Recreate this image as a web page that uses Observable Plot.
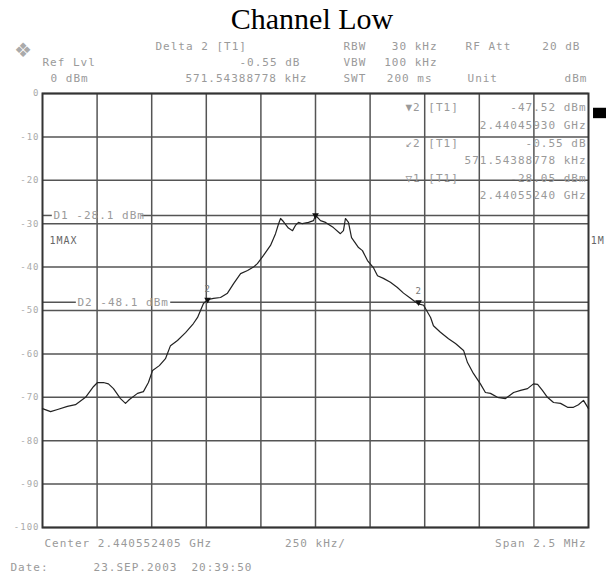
<!DOCTYPE html>
<html>
<head>
<meta charset="utf-8">
<script src="https://cdn.jsdelivr.net/npm/d3@7"></script>
<script src="https://cdn.jsdelivr.net/npm/@observablehq/plot@0.6"></script>
<style>
  body { margin: 0; background: #fff; }
  #title { width: 606px; height: 30px; text-align: center; font-family: "Liberation Serif", serif; font-size: 30px; line-height: 30px; padding-left: 18px; box-sizing: border-box; overflow: visible; }
  #title span { position: relative; top: 4px; }
</style>
</head>
<body>
<div id="title"><span>Channel Low</span></div>
<div id="chart"></div>
<script>
// Frequency offset from center (kHz) and trace level (dBm)
const freqKHz = [-1250,-1213,-1181,-1136,-1099,-1053,-1016,-998,-971,-948,
  -925,-893,-870,-852,-815,-788,-765,-746,-715,-687,
  -664,-632,-595,-559,-540,-513,-494,-467,-435,-403,
  -375,-343,-311,-284,-266,-238,-206,-183,-169,-160,
  -147,-124,-105,-92,-78,-60,-32,-9,0,23,
  46,82,114,128,137,151,165,197,215,238,
  266,284,311,343,375,403,435,467,495,527,
  540,572,609,641,678,696,723,755,778,801,
  833,870,907,939,971,998,1017,1039,1062,1090,
  1122,1154,1181,1204,1227,1250];
const levelDbm = [-72.6,-73.3,-72.8,-72.1,-71.7,-70.0,-67.5,-66.6,-66.6,-66.9,
  -68.0,-70.3,-71.4,-70.5,-69.1,-68.7,-66.6,-63.8,-62.7,-61.1,
  -58.1,-56.9,-55.1,-53.0,-51.6,-48.4,-47.5,-47.2,-47.0,-46.0,
  -43.8,-41.5,-40.8,-40.0,-39.2,-37.3,-35.0,-32.3,-30.0,-28.8,
  -29.5,-31.0,-31.6,-30.4,-29.7,-30.0,-29.7,-29.3,-28.05,-29.3,
  -29.7,-30.9,-32.3,-31.6,-28.8,-29.7,-33.2,-35.5,-36.2,-38.5,
  -40.2,-42.0,-42.6,-43.5,-44.7,-46.0,-47.2,-48.4,-48.8,-51.6,
  -53.5,-55.0,-56.5,-57.6,-59.2,-62.0,-64.5,-66.9,-68.9,-69.1,
  -70.0,-70.3,-68.9,-68.4,-68.0,-66.9,-67.0,-68.4,-70.0,-71.2,
  -71.4,-72.3,-72.3,-71.7,-70.7,-72.6];

const gridKHz = [-1000,-750,-500,-250,0,250,500,750,1000];
const gridDb = [0,-10,-20,-30,-40,-50,-60,-70,-80,-90,-100];

// Display lines (drawn with a gap where the label sits)
const displayLineNames = ["D1 -28.1 dBm", "D2 -48.1 dBm"];
const displayLineDb = [-28.1, -48.1];
const displayLineLabelKHz = [-1200, -1090];
const displayLineGapStartKHz = [-1205, -1095];
const displayLineGapEndKHz = [-795, -663];

// Markers
const markerNames = ["1", "2", "2"];
const markerKHz = [0, -494, 472];
const markerDb = [-28.05, -47.52, -48.07];

// Header / info text, anchored in chart units (kHz, dB)
const headerTexts  = ["Delta 2 [T1]","RBW","30 kHz","RF Att","20 dB",
                      "Ref Lvl","-0.55 dB","VBW","100 kHz",
                      "0 dBm","571.54388778 kHz","SWT","200 ms","Unit","dBm"];
const headerKHz    = [-733,128,559,687,1213, -1250,-69,128,559, -1213,-37,128,536,696,1245];
const headerDb     = [10.8,10.8,10.8,10.8,10.8, 7.1,7.1,7.1,7.1, 3.4,3.4,3.4,3.4,3.4,3.4];
const headerAnchor = ["start","start","end","start","end", "start","end","start","end", "start","end","start","end","start","end"];

const markerInfoLeft = ["\u25BC2 [T1]", "\u21992 [T1]", "\u25BD1 [T1]"];
const markerInfoLeftDb = [-3.2, -11.5, -19.6];
const markerInfoRight = ["-47.52 dBm","2.44045930 GHz","-0.55 dB","571.54388778 kHz","-28.05 dBm","2.44055240 GHz"];
const markerInfoRightDb = [-3.2, -7.4, -11.5, -15.4, -19.6, -23.5];

const footerTexts  = ["Center 2.440552405 GHz", "250 kHz/", "Span 2.5 MHz", "Date:", "23.SEP.2003", "20:39:50"];
const footerKHz    = [-1241, 0, 1241, -1397, -1016, -568];
const footerDb     = [-103.7, -103.7, -103.7, -109.2, -109.2, -109.2];
const footerAnchor = ["start", "middle", "end", "start", "start", "start"];

const traceLabels = ["1MAX", "1M"];
const traceLabelKHz = [-1218, 1260];
const traceLabelDb = [-33.9, -33.9];

const trace = freqKHz.map((f, i) => ({f, db: levelDbm[i]}));
const dls = displayLineNames.map((n, i) => ({n, db: displayLineDb[i], f: displayLineLabelKHz[i]}));
const dlSegs = displayLineDb.flatMap((db, i) => [
  {db, x1: -1250, x2: displayLineGapStartKHz[i]},
  {db, x1: displayLineGapEndKHz[i], x2: 1250}
]);
const mks = markerNames.map((n, i) => ({n, f: markerKHz[i], db: markerDb[i]}));
const hdr = headerTexts.map((t, i) => ({t, f: headerKHz[i], db: headerDb[i], a: headerAnchor[i]}));
const ftr = footerTexts.map((t, i) => ({t, f: footerKHz[i], db: footerDb[i], a: footerAnchor[i]}));
const mil = markerInfoLeft.map((t, i) => ({t, db: markerInfoLeftDb[i]}));
const mir = markerInfoRight.map((t, i) => ({t, db: markerInfoRightDb[i]}));
const tl = traceLabels.map((t, i) => ({t, f: traceLabelKHz[i], db: traceLabelDb[i]}));

const txtFill = "#9a9a9a";
const fs = 11;

const chart = Plot.plot({
  width: 606,
  height: 545,
  marginLeft: 42,
  marginRight: 18,
  marginTop: 63,
  marginBottom: 48,
  x: {domain: [-1250, 1250], axis: null},
  y: {domain: [-100, 0], axis: null},
  style: {fontFamily: "'DejaVu Sans Mono', monospace", letterSpacing: "1px", background: "white", overflow: "visible"},
  marks: [
    Plot.ruleX(gridKHz, {stroke: "#555", strokeWidth: 1.5}),
    Plot.ruleY(gridDb, {stroke: "#555", strokeWidth: 1.5}),
    Plot.ruleY(dlSegs, {y: "db", x1: "x1", x2: "x2", stroke: "#555", strokeWidth: 1.5}),
    Plot.frame({stroke: "#333", strokeWidth: 2}),
    Plot.text(dls, {x: "f", y: "db", text: "n", textAnchor: "start", fontSize: fs, fill: txtFill}),
    Plot.line(trace, {x: "f", y: "db", stroke: "#222", strokeWidth: 1.2}),
    Plot.dot(mks, {x: "f", y: "db", symbol: "triangle", rotate: 180, r: 2.5, fill: "#111"}),
    Plot.text(mks.slice(1), {x: "f", y: "db", text: "n", dy: -11, fontSize: 9, fill: "#777"}),
    Plot.text(gridDb, {frameAnchor: "left", y: d => d, text: d => String(d), textAnchor: "end", dx: -3, fontSize: 9, fill: "#aaa", letterSpacing: "0px"}),
    Plot.text(hdr, {x: "f", y: "db", text: "t", textAnchor: "start", filter: d => d.a === "start", fontSize: fs, fill: txtFill}),
    Plot.text(hdr, {x: "f", y: "db", text: "t", textAnchor: "end", filter: d => d.a === "end", fontSize: fs, fill: txtFill}),
    Plot.text(mil, {x: 412, y: "db", text: "t", textAnchor: "start", fontSize: fs, fill: txtFill}),
    Plot.text(mir, {x: 1241, y: "db", text: "t", textAnchor: "end", fontSize: fs, fill: txtFill}),
    Plot.text(ftr, {x: "f", y: "db", text: "t", textAnchor: "start", filter: d => d.a === "start", fontSize: fs, fill: txtFill}),
    Plot.text(ftr, {x: "f", y: "db", text: "t", textAnchor: "middle", filter: d => d.a === "middle", fontSize: fs, fill: txtFill}),
    Plot.text(ftr, {x: "f", y: "db", text: "t", textAnchor: "end", filter: d => d.a === "end", fontSize: fs, fill: txtFill}),
    Plot.text(tl, {x: "f", y: "db", text: "t", textAnchor: "start", fontSize: 10, fill: "#666", letterSpacing: "0px"}),
    Plot.rect([{x1: 1273, x2: 1340, y1: -3.4, y2: -5.8}], {x1: "x1", x2: "x2", y1: "y1", y2: "y2", fill: "#000"}),
    Plot.text(["\u2756"], {x: -1337, y: 10.4, text: d => d, fontSize: 26, fill: "#aaa"})
  ]
});
document.getElementById("chart").appendChild(chart);
</script>
</body>
</html>
